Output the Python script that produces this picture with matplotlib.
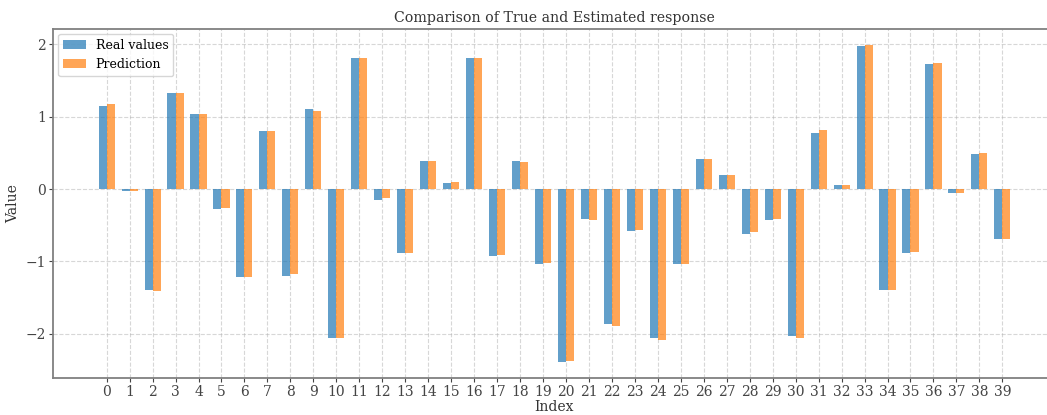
import numpy as np
import matplotlib
matplotlib.use("Agg")
from matplotlib import pyplot as plt

plt.rcParams['font.family'] = ['DejaVu Serif']

# values
index = list(range(40))
real_values = [1.15, -0.03, -1.40, 1.33, 1.04, -0.28, -1.21, 0.80, -1.20, 1.10,
               -2.06, 1.81, -0.15, -0.89, 0.39, 0.08, 1.81, -0.92, 0.39, -1.03,
               -2.39, -0.42, -1.86, -0.58, -2.06, -1.03, 0.42, 0.19, -0.62, -0.43,
               -2.03, 0.78, 0.06, 1.97, -1.40, -0.88, 1.72, -0.05, 0.48, -0.69]
prediction = [1.18, -0.03, -1.41, 1.33, 1.04, -0.26, -1.22, 0.80, -1.18, 1.08,
              -2.06, 1.81, -0.13, -0.89, 0.39, 0.10, 1.81, -0.91, 0.37, -1.02,
              -2.37, -0.43, -1.89, -0.57, -2.09, -1.03, 0.42, 0.19, -0.60, -0.42,
              -2.05, 0.81, 0.06, 1.99, -1.40, -0.87, 1.74, -0.06, 0.50, -0.69]

x = np.arange(len(index))
width = 0.35

fig = plt.figure(figsize=(10.47, 4.15), dpi=100)
ax = fig.add_axes([53 / 1047, 37 / 415, 1003 / 1047, 349 / 415])

ax.bar(x - width / 2, real_values, width, label='Real values', color='tab:blue', alpha=0.7)
ax.bar(x + width / 2, prediction, width, label='Prediction', color='tab:orange', alpha=0.7)

ax.set_xticks(x)
ax.set_xticklabels([str(i) for i in index])
ax.set_xlabel('Index', fontsize=10, color='#333333', labelpad=1)
ax.set_ylabel('Value', fontsize=10, color='#333333', labelpad=4)
ax.set_title('Comparison of True and Estimated response', fontsize=10.2, color='#333333', pad=5)
ax.tick_params(labelsize=10, colors='#444444', length=3, pad=2)
ax.grid(True, linestyle='--', alpha=0.5)
ax.set_axisbelow(True)
for s in ax.spines.values():
    s.set_color('#808080')
    s.set_linewidth(1.3)

ax.legend(loc='upper left', fontsize=9, handlelength=1.8, borderaxespad=0.4)

plt.savefig('out.png', dpi=100)
